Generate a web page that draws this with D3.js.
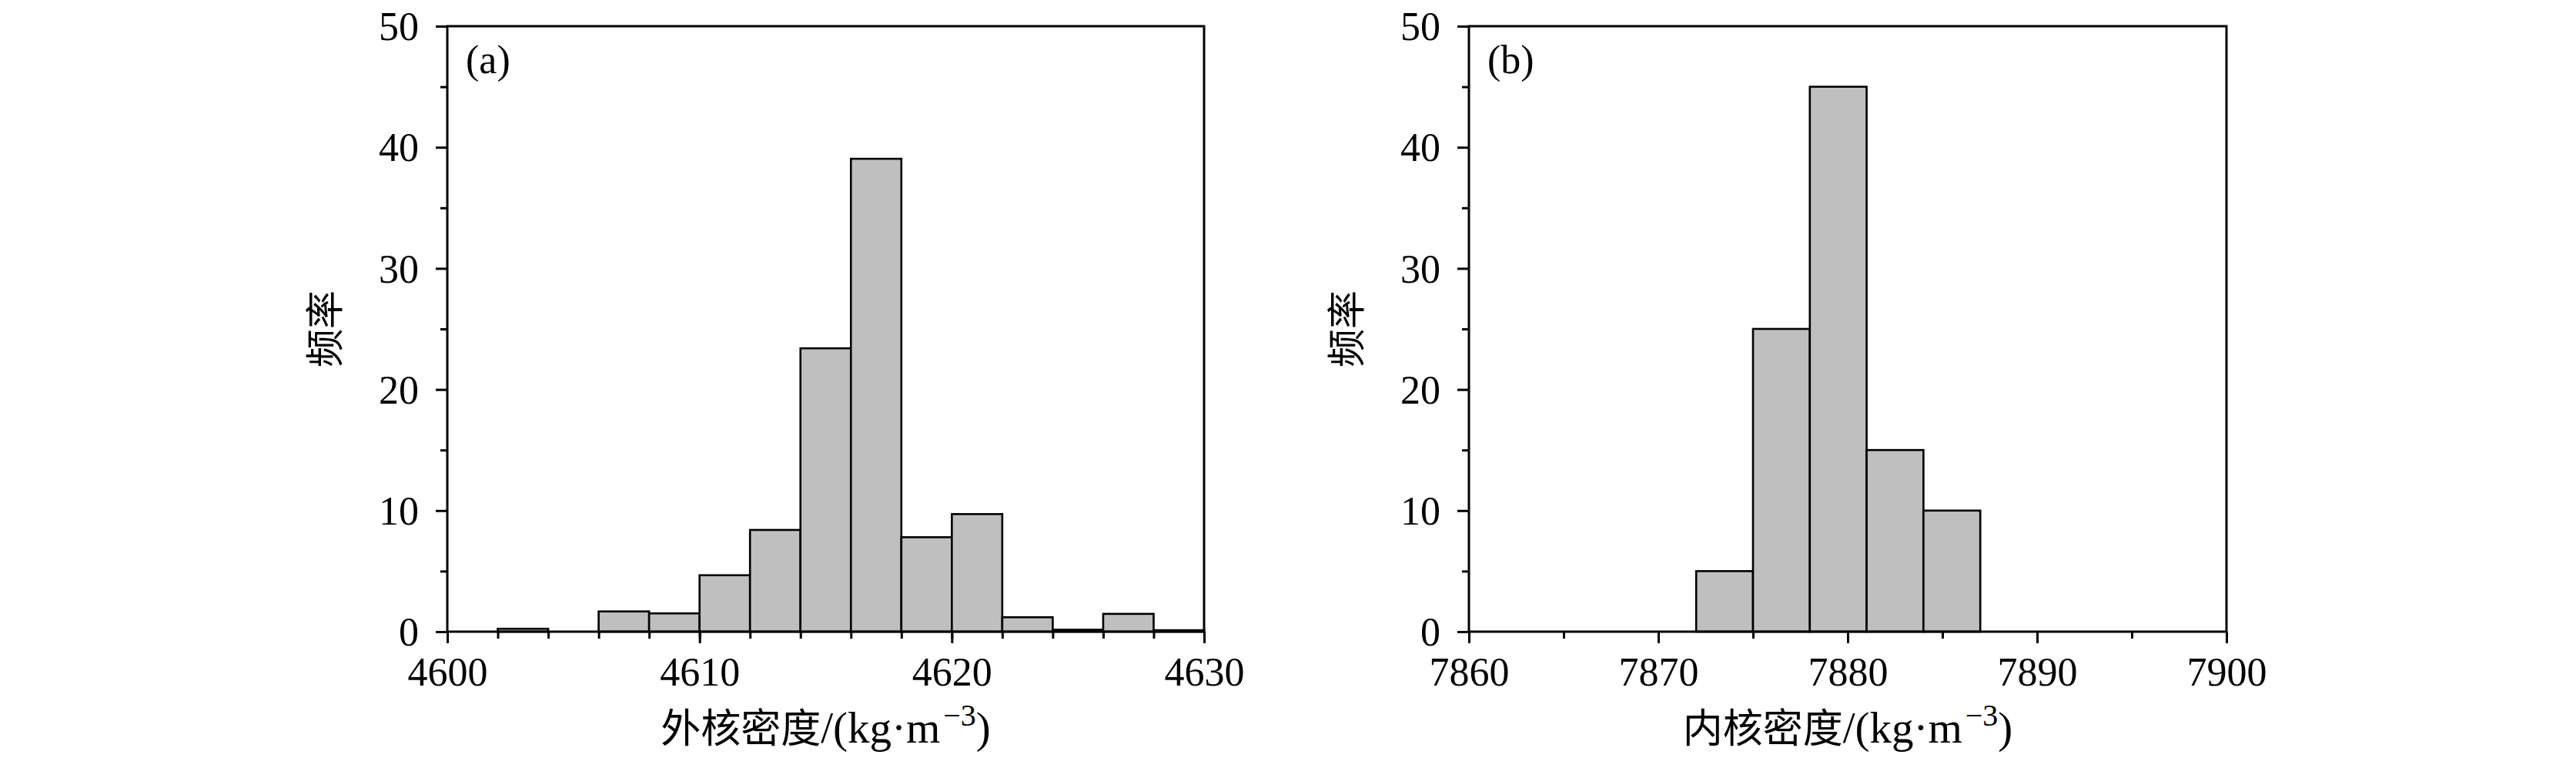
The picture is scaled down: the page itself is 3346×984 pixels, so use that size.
<!DOCTYPE html>
<html>
<head>
<meta charset="utf-8">
<script src="https://cdn.jsdelivr.net/npm/d3@7"></script>
<style>
  html, body { margin: 0; padding: 0; background: #fff; }
  svg { display: block; }
</style>
</head>
<body>
<svg id="chart" width="3346" height="984"></svg>
<script>
// ---- Data ----
const edgesA = [4602, 4604, 4606, 4608, 4610, 4612, 4614, 4616, 4618, 4620, 4622, 4624, 4626, 4628, 4630];
const freqA  = [0.24, 0, 1.67, 1.51, 4.66, 8.4, 23.4, 39.05, 7.8, 9.71, 1.19, 0.16, 1.47, 0.12];
const edgesB = [7872, 7875, 7878, 7881, 7884, 7887];
const freqB  = [5, 25, 45, 15, 10];

const xDomainA = [4600, 4630];
const xMajorA = [4600, 4610, 4620, 4630];
const xMinorA = d3.range(4600, 4631, 2);
const xDomainB = [7860, 7900];
const xMajorB = [7860, 7870, 7880, 7890, 7900];
const xMinorB = d3.range(7860, 7901, 5);
const yMajor = [0, 10, 20, 30, 40, 50];
const yMinor = [5, 15, 25, 35, 45];

const panelLabels = ["(a)", "(b)"];
const xTitles = ["外核密度", "内核密度"];
const yTitle = "频率";

// ---- Layout ----
const plotTop = 34, plotBottom = 820;
const panels = [
  { left: 581, right: 1564, edges: edgesA, freq: freqA, dom: xDomainA, maj: xMajorA, min: xMinorA },
  { left: 1908, right: 2892, edges: edgesB, freq: freqB, dom: xDomainB, maj: xMajorB, min: xMinorB }
];

const svg = d3.select("#chart");
const serif = "'Liberation Serif', 'DejaVu Serif', serif";
const cjk = "'Noto Sans CJK SC', sans-serif";

panels.forEach((p, i) => {
  const x = d3.scaleLinear().domain(p.dom).range([p.left, p.right]);
  const y = d3.scaleLinear().domain([0, 50]).range([plotBottom, plotTop]);
  const g = svg.append("g");

  // bars
  const bins = p.freq.map((f, k) => ({ x0: p.edges[k], x1: p.edges[k + 1], f }));
  g.selectAll("rect.bar").data(bins.filter(d => d.f > 0)).join("rect")
    .attr("class", "bar")
    .attr("x", d => x(d.x0))
    .attr("width", d => x(d.x1) - x(d.x0))
    .attr("y", d => y(d.f))
    .attr("height", d => y(0) - y(d.f))
    .attr("fill", "#bfbfbf")
    .attr("stroke", "#000")
    .attr("stroke-width", 2.6);

  // frame
  g.append("rect")
    .attr("x", p.left).attr("y", plotTop)
    .attr("width", p.right - p.left).attr("height", plotBottom - plotTop)
    .attr("fill", "none").attr("stroke", "#000").attr("stroke-width", 3);

  // x axis minor
  const xMin = g.append("g").attr("transform", `translate(0,${plotBottom})`)
    .call(d3.axisBottom(x).tickValues(p.min).tickSize(9).tickFormat(""));
  // x axis major
  const xMaj = g.append("g").attr("transform", `translate(0,${plotBottom})`)
    .call(d3.axisBottom(x).tickValues(p.maj).tickSize(15).tickFormat(d3.format("d")));
  [xMin, xMaj].forEach(a => {
    a.select(".domain").remove();
    a.selectAll("line").attr("stroke", "#000").attr("stroke-width", 3);
  });
  xMaj.selectAll("text")
    .attr("y", 70).attr("dy", null)
    .attr("font-family", serif).attr("font-size", 52).attr("fill", "#000");

  // y axis
  const yMin = g.append("g").attr("transform", `translate(${p.left},0)`)
    .call(d3.axisLeft(y).tickValues(yMinor).tickSize(9).tickFormat(""));
  const yMaj = g.append("g").attr("transform", `translate(${p.left},0)`)
    .call(d3.axisLeft(y).tickValues(yMajor).tickSize(15).tickFormat(d3.format("d")));
  [yMin, yMaj].forEach(a => {
    a.select(".domain").remove();
    a.selectAll("line").attr("stroke", "#000").attr("stroke-width", 3);
  });
  yMaj.selectAll("text")
    .attr("x", -37).attr("dy", "0.34em")
    .attr("font-family", serif).attr("font-size", 52).attr("fill", "#000");

  // panel label
  g.append("text")
    .attr("x", p.left + 24).attr("y", 95)
    .attr("font-family", serif).attr("font-size", 52)
    .text(panelLabels[i]);

  // x title
  const xt = g.append("text")
    .attr("x", (p.left + p.right) / 2).attr("y", 964)
    .attr("text-anchor", "middle")
    .attr("font-size", 52);
  xt.append("tspan").attr("font-family", cjk).text(xTitles[i]);
  xt.append("tspan").attr("font-family", serif).attr("font-size", 57).text("/(kg·m");
  xt.append("tspan").attr("font-family", serif).attr("font-size", 40).attr("dx", 4).attr("dy", -22).text("−3");
  xt.append("tspan").attr("font-family", serif).attr("font-size", 57).attr("dy", 22).text(")");

  // y title
  g.append("text")
    .attr("transform", `translate(${p.left - 159},${(plotTop + plotBottom) / 2}) rotate(-90)`)
    .attr("text-anchor", "middle")
    .attr("dy", "0.35em")
    .attr("font-family", cjk).attr("font-size", 50)
    .text(yTitle);
});
</script>
</body>
</html>
